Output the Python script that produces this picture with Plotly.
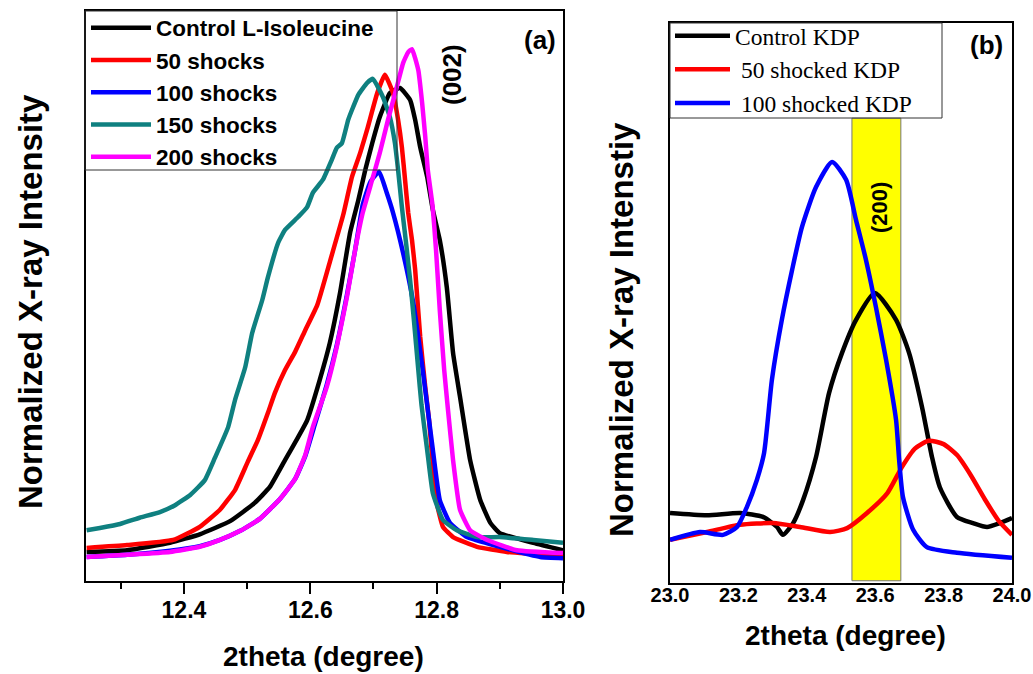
import plotly.graph_objects as go

# ---------------- Panel (a): L-Isoleucine (002) ----------------
ctrl_a_x = [12.246, 12.310, 12.378, 12.425, 12.473, 12.512, 12.536, 12.560, 12.581, 12.595, 12.615, 12.631,
            12.647, 12.663, 12.676, 12.687, 12.698, 12.710, 12.726, 12.742, 12.758, 12.766, 12.774, 12.785,
            12.794, 12.805, 12.816, 12.826, 12.837, 12.853, 12.869, 12.885, 12.900, 12.953, 13.000]
ctrl_a_y = [0.051, 0.054, 0.067, 0.082, 0.105, 0.137, 0.165, 0.212, 0.253, 0.282, 0.353, 0.418,
            0.505, 0.611, 0.668, 0.721, 0.768, 0.814, 0.856, 0.865, 0.844, 0.809, 0.761, 0.709,
            0.651, 0.598, 0.516, 0.400, 0.323, 0.212, 0.142, 0.102, 0.084, 0.067, 0.054]

s50_a_x = [12.246, 12.310, 12.383, 12.425, 12.457, 12.481, 12.501, 12.517, 12.533, 12.544, 12.560, 12.576,
           12.592, 12.611, 12.631, 12.652, 12.666, 12.679, 12.691, 12.706, 12.718, 12.731, 12.739, 12.745,
           12.750, 12.755, 12.761, 12.766, 12.774, 12.782, 12.788, 12.794, 12.801, 12.810, 12.826, 12.864,
           12.911, 13.000]
s50_a_y = [0.058, 0.063, 0.072, 0.095, 0.125, 0.160, 0.209, 0.247, 0.295, 0.330, 0.370, 0.402,
           0.440, 0.484, 0.560, 0.642, 0.709, 0.751, 0.796, 0.856, 0.888, 0.856, 0.809, 0.761,
           0.704, 0.646, 0.598, 0.546, 0.428, 0.340, 0.282, 0.204, 0.133, 0.095, 0.077, 0.060,
           0.051, 0.044]

s100_a_x = [12.246, 12.310, 12.378, 12.425, 12.457, 12.489, 12.520, 12.552, 12.576, 12.592, 12.607, 12.626,
            12.642, 12.658, 12.671, 12.683, 12.695, 12.709, 12.721, 12.731, 12.747, 12.763, 12.778, 12.786,
            12.794, 12.805, 12.821, 12.848, 12.900, 12.964, 13.000]
s100_a_y = [0.042, 0.046, 0.053, 0.061, 0.072, 0.088, 0.109, 0.144, 0.179, 0.219, 0.274, 0.344,
            0.414, 0.502, 0.581, 0.660, 0.700, 0.718, 0.681, 0.646, 0.575, 0.488, 0.370, 0.300,
            0.230, 0.142, 0.102, 0.077, 0.060, 0.042, 0.040]

s150_a_x = [12.246, 12.267, 12.299, 12.330, 12.362, 12.386, 12.410, 12.433, 12.449, 12.470, 12.481, 12.497,
            12.508, 12.524, 12.533, 12.549, 12.560, 12.581, 12.595, 12.604, 12.620, 12.634, 12.642, 12.650,
            12.660, 12.668, 12.676, 12.690, 12.699, 12.715, 12.726, 12.734, 12.739, 12.745, 12.752, 12.758,
            12.764, 12.771, 12.776, 12.785, 12.794, 12.810, 12.832, 12.864, 12.900, 12.953, 13.000]
s150_a_y = [0.089, 0.093, 0.100, 0.111, 0.121, 0.133, 0.151, 0.177, 0.216, 0.270, 0.318, 0.375,
            0.435, 0.493, 0.533, 0.593, 0.616, 0.639, 0.656, 0.681, 0.704, 0.739, 0.760, 0.768,
            0.809, 0.832, 0.853, 0.874, 0.881, 0.849, 0.814, 0.768, 0.721, 0.656, 0.589, 0.528,
            0.458, 0.370, 0.309, 0.230, 0.154, 0.107, 0.089, 0.077, 0.077, 0.072, 0.067]

s200_a_x = [12.246, 12.310, 12.378, 12.425, 12.457, 12.489, 12.520, 12.552, 12.576, 12.592, 12.604, 12.626,
            12.642, 12.658, 12.671, 12.683, 12.698, 12.710, 12.723, 12.737, 12.747, 12.755, 12.761, 12.771,
            12.777, 12.782, 12.786, 12.793, 12.799, 12.805, 12.812, 12.818, 12.826, 12.837, 12.853, 12.880,
            12.927, 13.000]
s200_a_y = [0.042, 0.046, 0.051, 0.060, 0.072, 0.088, 0.109, 0.144, 0.179, 0.221, 0.270, 0.340,
            0.411, 0.498, 0.581, 0.646, 0.704, 0.751, 0.809, 0.867, 0.909, 0.928, 0.933, 0.896,
            0.839, 0.779, 0.721, 0.663, 0.581, 0.475, 0.370, 0.300, 0.212, 0.125, 0.089, 0.072,
            0.054, 0.049]

names_a = ["Control L-Isoleucine", "50 shocks", "100 shocks", "150 shocks", "200 shocks"]
colors_a = ["#000000", "#ff0000", "#0000ff", "#0f8080", "#ff00ff"]

ticks_a = [12.4, 12.6, 12.8, 13.0]
minor_ticks_a = [12.3, 12.5, 12.7, 12.9]
range_a = [12.245, 13.0]

# ---------------- Panel (b): KDP (200) ----------------
ctrl_b_x = [23.000, 23.108, 23.205, 23.272, 23.313, 23.330, 23.360, 23.389, 23.427, 23.465, 23.503, 23.544,
            23.599, 23.661, 23.699, 23.737, 23.766, 23.789, 23.839, 23.886, 23.927, 23.965, 24.000]
ctrl_b_y = [0.125, 0.121, 0.125, 0.118, 0.100, 0.086, 0.107, 0.148, 0.225, 0.339, 0.411, 0.470,
            0.518, 0.470, 0.411, 0.314, 0.225, 0.171, 0.118, 0.107, 0.100, 0.107, 0.116]

s50_b_x = [23.000, 23.108, 23.205, 23.301, 23.380, 23.468, 23.518, 23.576, 23.635, 23.678, 23.716, 23.757,
           23.800, 23.840, 23.880, 23.920, 23.960, 24.000]
s50_b_y = [0.077, 0.091, 0.104, 0.107, 0.100, 0.091, 0.098, 0.125, 0.160, 0.207, 0.240, 0.254,
           0.248, 0.228, 0.192, 0.150, 0.112, 0.086]

s100_b_x = [23.000, 23.088, 23.155, 23.196, 23.225, 23.254, 23.275, 23.298, 23.327, 23.357, 23.386, 23.427,
            23.474, 23.515, 23.544, 23.573, 23.602, 23.632, 23.661, 23.670, 23.681, 23.711, 23.751, 23.839,
            24.000]
s100_b_y = [0.077, 0.091, 0.086, 0.100, 0.136, 0.184, 0.232, 0.363, 0.470, 0.559, 0.636, 0.707,
            0.752, 0.720, 0.648, 0.577, 0.493, 0.398, 0.291, 0.220, 0.154, 0.095, 0.064, 0.054,
            0.045]

names_b = ["Control KDP", "\u00a050 shocked KDP", "\u00a0100 shocked KDP"]
colors_b = ["#000000", "#ff0000", "#0000ff"]

ticks_b = [23.0, 23.2, 23.4, 23.6, 23.8, 24.0]
tick_text_b = ["23.0", "23.2", "23.4", "23.6", "23.8", "24.0"]
range_b = [23.0, 24.0]
band_lo, band_hi, band_top = 23.532, 23.675, 0.830

W, H = 1033, 674
SANS = "Liberation Sans"
SERIF = "Liberation Serif"

fig = go.Figure()

series_a = [(ctrl_a_x, ctrl_a_y), (s50_a_x, s50_a_y), (s100_a_x, s100_a_y),
            (s150_a_x, s150_a_y), (s200_a_x, s200_a_y)]
for i, ((xs, ys), nm, col) in enumerate(zip(series_a, names_a, colors_a)):
    fig.add_trace(go.Scatter(x=xs, y=ys, mode="lines", name=nm, xaxis="x", yaxis="y",
                             line=dict(color=col, width=4.5, shape="spline", smoothing=0.4),
                             legend="legend", legendgroup="a%d" % i))

series_b = [(ctrl_b_x, ctrl_b_y), (s50_b_x, s50_b_y), (s100_b_x, s100_b_y)]
for i, ((xs, ys), nm, col) in enumerate(zip(series_b, names_b, colors_b)):
    fig.add_trace(go.Scatter(x=xs, y=ys, mode="lines", name=nm, xaxis="x2", yaxis="y2",
                             line=dict(color=col, width=4.5, shape="spline", smoothing=0.6),
                             legend="legend2", legendgroup="b%d" % i))

axis_common = dict(showline=True, linewidth=2, linecolor="black", mirror=True,
                   showgrid=False, zeroline=False, automargin=False)

fig.update_layout(
    width=W, height=H,
    margin=dict(l=0, r=0, t=0, b=0, pad=0, autoexpand=False),
    paper_bgcolor="white", plot_bgcolor="white",
    xaxis=dict(domain=[86 / W, 563 / W], range=range_a, anchor="y",
               tickvals=ticks_a, ticktext=["%.1f" % v for v in ticks_a],
               ticks="outside", ticklen=11, tickwidth=2, tickcolor="black",
               ticklabelstandoff=-4,
               tickfont=dict(family=SANS, size=23, color="black", weight="bold"),
               minor=dict(tickvals=minor_ticks_a, ticks="outside", ticklen=6, tickwidth=2,
                          tickcolor="black", showgrid=False),
               **axis_common),
    yaxis=dict(domain=[1 - 581 / H, 1 - 11 / H], range=[0, 1], anchor="x",
               showticklabels=False, ticks="", **axis_common),
    xaxis2=dict(domain=[670 / W, 1012 / W], range=range_b, anchor="y2",
                tickvals=ticks_b, ticktext=tick_text_b, ticks="",
                ticklabelstandoff=-7,
                tickfont=dict(family=SANS, size=20, color="black", weight="bold"),
                **axis_common),
    yaxis2=dict(domain=[1 - 583 / H, 1 - 23 / H], range=[0, 1], anchor="x2",
                showticklabels=False, ticks="", **axis_common),
    legend=dict(x=86 / W, y=1 - 6.5 / H, xanchor="left", yanchor="top",
                bgcolor="rgba(0,0,0,0)", borderwidth=0,
                font=dict(family=SANS, size=22.5, color="black", weight="bold"),
                traceorder="grouped", tracegroupgap=0, itemwidth=60),
    legend2=dict(x=670 / W, y=1 - 14 / H, xanchor="left", yanchor="top",
                 bgcolor="rgba(0,0,0,0)", borderwidth=0,
                 font=dict(family=SERIF, size=23.5, color="black"),
                 traceorder="grouped", tracegroupgap=0, itemwidth=55),
    showlegend=True,
)

# legend frames
fig.add_shape(type="rect", xref="paper", yref="paper", x0=85 / W, x1=397 / W,
              y0=1 - 170 / H, y1=1 - 11 / H, line=dict(color="#333333", width=1))
fig.add_shape(type="rect", xref="paper", yref="paper", x0=670 / W, x1=942 / W,
              y0=1 - 118 / H, y1=1 - 23 / H, line=dict(color="#333333", width=1))

fig.add_shape(type="rect", xref="x2", yref="y2", x0=band_lo, x1=band_hi, y0=0.004, y1=band_top,
              fillcolor="#ffff00", line=dict(color="#777777", width=1), layer="below")

def ann(text, px, py, size, angle=0, family=SANS, bold=True):
    fig.add_annotation(text=text, x=px / W, y=1 - py / H, xref="paper", yref="paper",
                       showarrow=False, textangle=angle, xanchor="center", yanchor="middle",
                       font=dict(family=family, size=size, color="black",
                                 weight="bold" if bold else "normal"))

ann("(a)", 540, 40, 26)
ann("(002)", 452, 75, 26, angle=-90)
ann("(b)", 986, 45, 26)
ann("(200)", 879, 208, 22, angle=-90)
ann("Normalized X-ray Intensity", 30, 302, 33, angle=-90)
ann("Normalized X-ray Intenstiy", 622, 330, 33, angle=-90)
ann("2theta (degree)", 323, 656, 28)
ann("2theta (degree)", 845, 635, 28)

fig.write_html("out.html", config={"displayModeBar": False},
               post_script="document.body.style.margin='0px';document.body.style.overflow='hidden';")
